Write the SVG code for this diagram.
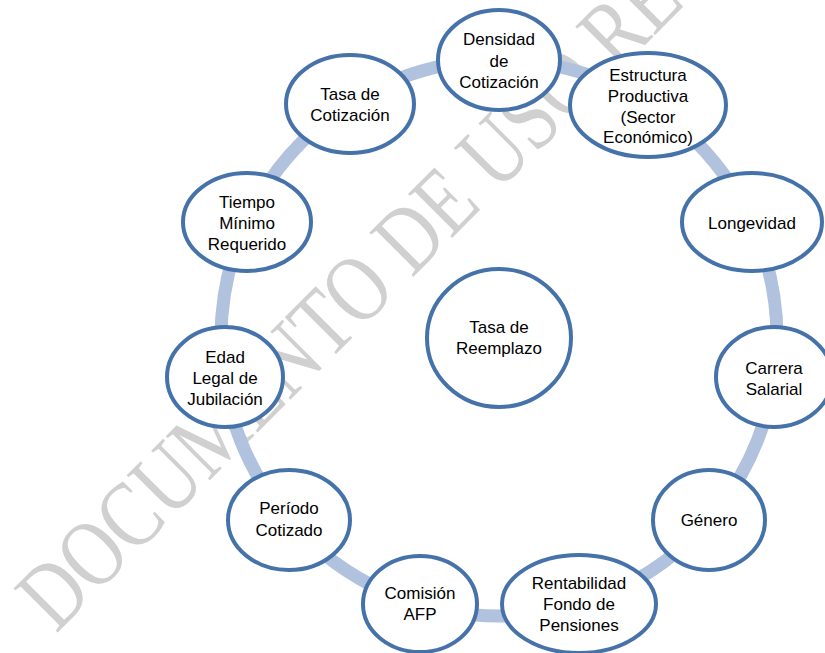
<svg xmlns="http://www.w3.org/2000/svg" width="825" height="653" viewBox="0 0 825 653">
<style>
.wm{font-family:"Liberation Serif","Times New Roman",serif;font-size:95px;fill:#d0d0d0}
.ring{fill:none;stroke:#b1c2de;stroke-width:13}
.node ellipse{fill:#ffffff;stroke:#4672aa;stroke-width:4}
.node text{font-family:"Liberation Sans",Arial,sans-serif;font-size:17px;fill:#000000;text-anchor:middle}
</style>
<rect x="0" y="0" width="825" height="653" fill="#ffffff"/>
<text class="wm" transform="translate(56,634) rotate(-45) scale(0.8,1)">DOCUMENTO DE USO RE</text>
<g id="connectors">
<circle class="ring" cx="499" cy="338" r="278"/>
</g>
<g id="n-center" class="node"><ellipse cx="499" cy="338" rx="72" ry="69"/><text x="499" y="333">Tasa de</text><text x="499" y="354">Reemplazo</text></g>
<g id="n-densidad" class="node"><ellipse cx="499" cy="60" rx="61" ry="50"/><text x="499" y="45">Densidad</text><text x="499" y="67">de</text><text x="499" y="88">Cotización</text></g>
<g id="n-estructura" class="node"><ellipse cx="648" cy="105" rx="78" ry="52"/><text x="648" y="81">Estructura</text><text x="648" y="102">Productiva</text><text x="648" y="123">(Sector</text><text x="648" y="143">Económico)</text></g>
<g id="n-longevidad" class="node"><ellipse cx="752" cy="222" rx="70" ry="49"/><text x="752" y="229">Longevidad</text></g>
<g id="n-carrera" class="node"><ellipse cx="774" cy="377" rx="58" ry="50"/><text x="774" y="374">Carrera</text><text x="774" y="395">Salarial</text></g>
<g id="n-genero" class="node"><ellipse cx="709" cy="520" rx="56" ry="50"/><text x="709" y="526">Género</text></g>
<g id="n-rentabilidad" class="node"><ellipse cx="579" cy="604" rx="77" ry="49"/><text x="579" y="589">Rentabilidad</text><text x="579" y="610">Fondo de</text><text x="579" y="631">Pensiones</text></g>
<g id="n-comision" class="node"><ellipse cx="420" cy="604" rx="57" ry="48"/><text x="420" y="599">Comisión</text><text x="420" y="620">AFP</text></g>
<g id="n-periodo" class="node"><ellipse cx="289" cy="520" rx="61" ry="50"/><text x="289" y="514">Período</text><text x="289" y="536">Cotizado</text></g>
<g id="n-edad" class="node"><ellipse cx="225" cy="377" rx="58" ry="50"/><text x="225" y="363">Edad</text><text x="225" y="384">Legal de</text><text x="225" y="405">Jubilación</text></g>
<g id="n-tiempo" class="node"><ellipse cx="247" cy="222" rx="64" ry="49"/><text x="247" y="208">Tiempo</text><text x="247" y="229">Mínimo</text><text x="247" y="250">Requerido</text></g>
<g id="n-tasacot" class="node"><ellipse cx="350" cy="104" rx="64" ry="49"/><text x="350" y="100">Tasa de</text><text x="350" y="121">Cotización</text></g>
</svg>
